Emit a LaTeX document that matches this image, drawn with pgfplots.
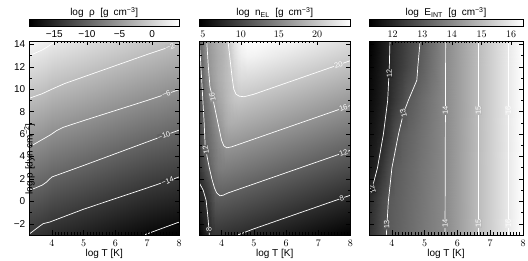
\documentclass[border=0pt]{standalone}
\usepackage{fontspec}
\setmainfont{Liberation Sans}
\usepackage{pgfplots}
\pgfplotsset{compat=1.18}
\tikzset{lbl/.style={text=white, font=\fontsize{7.5}{8}\selectfont, inner sep=0.5pt}}
\begin{document}
\begin{tikzpicture}[font=\fontsize{10}{12}\selectfont]
\path[use as bounding box] (0pt,0pt) rectangle (528pt,260pt);
\pgfplotsset{
  panel/.style={
    scale only axis, anchor=south west, height=194pt,
    xmin=3.3, xmax=8, ymin=-3, ymax=14.3,
    axis on top, tick align=inside,
    xtick={4,5,6,7,8}, minor x tick num=9,
    ytick={-2,0,2,4,6,8,10,12,14}, minor y tick num=1,
    yticklabels={−2,0,2,4,6,8,10,12,14},
    xtick pos=left, ytick pos=both, yticklabel pos=left,
    major tick length=4.5pt, minor tick length=2.5pt,
    every tick/.style={black, line width=0.5pt},
    axis line style={line width=0.6pt},
    tick label style={font=\fontsize{10}{12}\selectfont},
    xticklabel style={anchor=base, yshift=-11.5pt},
    yticklabel style={xshift=-0.8pt},
    xlabel={log T [K]},
    xlabel style={at={(axis description cs:0.5,0)}, anchor=base, yshift=-21pt, font=\fontsize{10}{12}\selectfont},
    colormap/blackwhite,
  },
  cbax/.style={scale only axis, anchor=south west, height=7pt, ymin=0, ymax=1,
    ticks=none, axis line style={line width=0.5pt}, colormap/blackwhite, axis on top, clip=false},
  topax/.style={scale only axis, anchor=south west, height=194pt, ymin=0, ymax=1,
    axis x line*=top, axis y line=none, tick align=inside, minor x tick num=9,
    major tick length=4.5pt, minor tick length=2.5pt,
    every tick/.style={black, line width=0.5pt},
    axis line style={line width=0.6pt},
    tick label style={font=\fontsize{10}{12}\selectfont},
    xticklabel style={anchor=south, yshift=-0.5pt}},
  cont/.style={white, line width=0.7pt, no markers},
}
% ---------------- Colorbars ----------------
\begin{axis}[cbax, at={(29.5pt,234pt)}, width=149.5pt, xmin=-18.8, xmax=4.1,
  point meta min=-18.8, point meta max=4.1]
\addplot[surf, shader=interp, mesh/cols=2, point meta=explicit] coordinates {
(-18.8,0)[-18.8] (4.1,0)[4.1]
(-18.8,1)[-18.8] (4.1,1)[4.1]
};
\node[anchor=base, yshift=3pt] at (axis description cs:0.5,1) {log\hspace{0.55em}ρ\hspace{0.55em}[g\hspace{0.5em}cm\textsuperscript{−3}]};
\end{axis}
\begin{axis}[cbax, at={(199pt,234pt)}, width=151.5pt, xmin=4.5, xmax=24.4,
  point meta min=4.5, point meta max=24.4]
\addplot[surf, shader=interp, mesh/cols=2, point meta=explicit] coordinates {
(4.5,0)[4.5] (24.4,0)[24.4]
(4.5,1)[4.5] (24.4,1)[24.4]
};
\node[anchor=base, yshift=3pt] at (axis description cs:0.5,1) {log\hspace{0.55em}n\textsubscript{EL}\hspace{0.55em}[g\hspace{0.5em}cm\textsuperscript{−3}]};
\end{axis}
\begin{axis}[cbax, at={(369pt,234pt)}, width=154pt, xmin=11.2, xmax=16.4,
  point meta min=11.2, point meta max=16.4]
\addplot[surf, shader=interp, mesh/cols=2, point meta=explicit] coordinates {
(11.2,0)[11.2] (16.4,0)[16.4]
(11.2,1)[11.2] (16.4,1)[16.4]
};
\node[anchor=base, yshift=3pt] at (axis description cs:0.5,1) {log\hspace{0.55em}E\textsubscript{INT}\hspace{0.55em}[g\hspace{0.5em}cm\textsuperscript{−3}]};
\end{axis}
% ---------------- Panel 1 : log rho ----------------
\begin{axis}[panel, at={(29.5pt,25pt)}, width=149.5pt,
  point meta min=-18.8, point meta max=4.1,
  ylabel={log p [dyn cm\textsuperscript{−2}]},
  ylabel style={at={(axis description cs:0,0.5)}, anchor=center, xshift=-21pt, font=\fontsize{10}{12}\selectfont}]
\addplot[surf, shader=interp, mesh/cols=9, point meta=explicit] coordinates {
(3.3,-3)[-14.04] (3.7,-3)[-14.5] (3.85,-3)[-14.75] (4.0,-3)[-15.1] (4.3,-3)[-15.35] (5,-3)[-16.06] (6,-3)[-17.07] (7,-3)[-18.08] (8,-3)[-19.1]
(3.3,14.3)[3.26] (3.7,14.3)[2.8] (3.85,14.3)[2.55] (4.0,14.3)[2.2] (4.3,14.3)[1.95] (5,14.3)[1.24] (6,14.3)[0.23] (7,14.3)[-0.78] (8,14.3)[-1.8]
};
\addplot[cont] coordinates {(3.3,13.0) (3.7,13.5) (3.85,13.75) (4.0,14.05) (4.15,14.3)};
\addplot[cont] coordinates {(3.3,9.2) (3.7,9.6) (4.0,10.0) (4.4,10.5) (5,11.1) (6,12.1) (7,13.1) (8,14.05)};
\addplot[cont] coordinates {(3.3,4.86) (3.94,5.9) (4.15,6.3) (4.36,6.6) (5,7.2) (6,8.1) (7,9.0) (8,9.95)};
\addplot[cont] coordinates {(3.3,0.98) (3.7,1.45) (3.84,1.73) (4.0,2.17) (5,3.2) (6,4.25) (7,5.3) (8,6.35)};
\addplot[cont] coordinates {(3.3,-2.9) (3.6,-2.25) (3.73,-1.99) (3.94,-1.84) (5,-0.7) (6,0.25) (7,1.2) (8,2.17)};
\addplot[cont] coordinates {(6.9,-3) (8,-1.85)};
\node[lbl, fill=white!73!black, rotate=19] at (7.72,13.78) {−2};
\node[lbl, fill=white!56!black, rotate=19] at (7.6,9.57) {−6};
\node[lbl, fill=white!38!black, rotate=19] at (7.53,5.86) {−10};
\node[lbl, fill=white!21!black, rotate=19] at (7.64,1.82) {−14};
\end{axis}
\begin{axis}[topax, at={(29.5pt,25pt)}, width=149.5pt, xmin=-18.8, xmax=4.1,
  xtick={-15,-10,-5,0}, xticklabels={−15,−10,−5,0}]
\end{axis}
% ---------------- Panel 2 : log n_EL ----------------
\begin{axis}[panel, at={(199pt,25pt)}, width=151.5pt, yticklabels={},
  point meta min=4.5, point meta max=24.4]
\addplot[surf, shader=interp, mesh/cols=19, point meta=explicit] coordinates {
(3.3,-3)[4.6] (3.4,-3)[5.7] (3.5,-3)[6.8] (3.6,-3)[7.8] (3.7,-3)[8.5] (3.8,-3)[8.6] (3.9,-3)[8.55] (4.0,-3)[8.45] (4.1,-3)[8.35] (4.2,-3)[8.25] (4.3,-3)[8.15] (4.4,-3)[8.05] (4.5,-3)[7.95] (4.6,-3)[7.85] (4.8,-3)[7.65] (5,-3)[7.45] (6,-3)[6.45] (7,-3)[5.45] (8,-3)[4.45]
(3.3,-1)[6.4] (3.4,-1)[7.1] (3.5,-1)[7.6] (3.6,-1)[8.5] (3.7,-1)[9.6] (3.8,-1)[10.4] (3.9,-1)[10.5] (4.0,-1)[10.4] (4.1,-1)[10.33] (4.2,-1)[10.25] (4.3,-1)[10.15] (4.4,-1)[10.05] (4.5,-1)[9.95] (4.6,-1)[9.85] (4.8,-1)[9.65] (5,-1)[9.45] (6,-1)[8.45] (7,-1)[7.45] (8,-1)[6.45]
(3.3,1)[7.5] (3.4,1)[7.85] (3.5,1)[8.7] (3.6,1)[9.8] (3.7,1)[11.0] (3.8,1)[12.2] (3.9,1)[12.4] (4.0,1)[12.4] (4.1,1)[12.33] (4.2,1)[12.25] (4.3,1)[12.15] (4.4,1)[12.05] (4.5,1)[11.95] (4.6,1)[11.85] (4.8,1)[11.65] (5,1)[11.45] (6,1)[10.45] (7,1)[9.45] (8,1)[8.45]
(3.3,3)[8.6] (3.4,3)[9.6] (3.5,3)[10.6] (3.6,3)[11.8] (3.7,3)[12.9] (3.8,3)[13.7] (3.9,3)[14.2] (4.0,3)[14.35] (4.1,3)[14.3] (4.2,3)[14.25] (4.3,3)[14.15] (4.4,3)[14.05] (4.5,3)[13.95] (4.6,3)[13.85] (4.8,3)[13.65] (5,3)[13.45] (6,3)[12.45] (7,3)[11.45] (8,3)[10.45]
(3.3,5)[9.2] (3.4,5)[10.6] (3.5,5)[12.1] (3.6,5)[12.9] (3.7,5)[13.6] (3.8,5)[14.3] (3.9,5)[15.0] (4.0,5)[15.6] (4.1,5)[16.15] (4.2,5)[16.2] (4.3,5)[16.12] (4.4,5)[16.05] (4.5,5)[15.95] (4.6,5)[15.85] (4.8,5)[15.65] (5,5)[15.45] (6,5)[14.45] (7,5)[13.45] (8,5)[12.45]
(3.3,7)[9.9] (3.4,7)[11.4] (3.5,7)[12.4] (3.6,7)[13.4] (3.7,7)[14.3] (3.8,7)[15.2] (3.9,7)[16.1] (4.0,7)[16.9] (4.1,7)[17.6] (4.2,7)[18.0] (4.3,7)[18.1] (4.4,7)[18.05] (4.5,7)[17.95] (4.6,7)[17.85] (4.8,7)[17.65] (5,7)[17.45] (6,7)[16.45] (7,7)[15.45] (8,7)[14.45]
(3.3,9)[10.6] (3.4,9)[11.7] (3.5,9)[13.1] (3.6,9)[14.3] (3.7,9)[15.5] (3.8,9)[16.5] (3.9,9)[17.3] (4.0,9)[17.9] (4.1,9)[18.5] (4.2,9)[19.0] (4.3,9)[19.4] (4.4,9)[19.75] (4.5,9)[19.9] (4.6,9)[19.85] (4.8,9)[19.65] (5,9)[19.45] (6,9)[18.45] (7,9)[17.45] (8,9)[16.45]
(3.3,11)[11.2] (3.4,11)[12.3] (3.5,11)[14.0] (3.6,11)[15.8] (3.7,11)[16.7] (3.8,11)[17.3] (3.9,11)[17.9] (4.0,11)[18.4] (4.1,11)[18.9] (4.2,11)[19.3] (4.3,11)[19.8] (4.4,11)[20.7] (4.5,11)[21.4] (4.6,11)[21.6] (4.8,11)[21.55] (5,11)[21.4] (6,11)[20.45] (7,11)[19.45] (8,11)[18.45]
(3.3,13)[11.7] (3.4,13)[13.2] (3.5,13)[14.9] (3.6,13)[16.3] (3.7,13)[16.9] (3.8,13)[17.4] (3.9,13)[17.9] (4.0,13)[18.4] (4.1,13)[18.9] (4.2,13)[19.6] (4.3,13)[20.6] (4.4,13)[21.7] (4.5,13)[22.6] (4.6,13)[23.1] (4.8,13)[23.5] (5,13)[23.4] (6,13)[22.45] (7,13)[21.45] (8,13)[20.45]
(3.3,14.3)[11.9] (3.4,14.3)[13.6] (3.5,14.3)[15.4] (3.6,14.3)[16.6] (3.7,14.3)[17.2] (3.8,14.3)[17.7] (3.9,14.3)[18.2] (4.0,14.3)[18.7] (4.1,14.3)[19.3] (4.2,14.3)[20.0] (4.3,14.3)[21.2] (4.4,14.3)[22.3] (4.5,14.3)[23.2] (4.6,14.3)[23.8] (4.8,14.3)[24.3] (5,14.3)[24.4] (6,14.3)[23.75] (7,14.3)[22.75] (8,14.3)[21.75]
};
\addplot[cont] coordinates {(4.2,14.3) (4.27,12.5) (4.33,11) (4.38,10.0) (4.45,9.55) (4.55,9.38) (4.7,9.33) (5,9.55) (6,10.55) (7,11.55) (8,12.55)};
\addplot[cont] coordinates {(3.54,14.3) (3.59,12) (3.64,10.2) (3.72,9.3) (3.85,7.5) (4.0,5.45) (4.07,4.95) (4.16,4.78) (4.3,4.85) (5,5.55) (6,6.55) (7,7.55) (8,8.55)};
\addplot[cont] coordinates {(3.31,14.3) (3.35,12.5) (3.38,11.0) (3.42,9) (3.46,7) (3.49,5.0) (3.55,4.0) (3.62,3.0) (3.7,2.0) (3.78,1.2) (3.85,0.75) (3.95,0.5) (4.05,0.55) (4.2,0.75) (5,1.55) (6,2.55) (7,3.55) (8,4.55)};
\addplot[cont] coordinates {(3.3,1.7) (3.43,1.0) (3.52,0.1) (3.57,-1.2) (3.6,-2.2) (3.62,-3)};
\addplot[cont] coordinates {(4.5,-3) (5,-2.45) (6,-1.45) (7,-0.45) (8,0.55)};
\node[lbl, fill=white!78!black, rotate=19] at (7.63,12.18) {20};
\node[lbl, fill=white!58!black, rotate=19] at (7.78,8.33) {16};
\node[lbl, fill=white!38!black, rotate=19] at (7.78,4.33) {12};
\node[lbl, fill=white!18!black, rotate=19] at (7.73,0.28) {8};
\node[lbl, fill=white!58!black, rotate=103] at (3.72,9.3) {16};
\node[lbl, fill=white!38!black, rotate=100] at (3.51,4.6) {12};
\node[lbl, fill=white!18!black, rotate=92] at (3.61,-2.55) {8};
\end{axis}
\begin{axis}[topax, at={(199pt,25pt)}, width=151.5pt, xmin=4.5, xmax=24.4,
  xtick={5,10,15,20}]
\end{axis}
% ---------------- Panel 3 : log E_INT ----------------
\begin{axis}[panel, at={(369pt,25pt)}, width=154pt, yticklabels={},
  point meta min=11.2, point meta max=16.4]
\addplot[surf, shader=interp, mesh/cols=14, point meta=explicit] coordinates {
(3.3,-3)[12.2] (3.5,-3)[12.5] (3.7,-3)[12.8] (3.9,-3)[13.04] (4.1,-3)[13.15] (4.3,-3)[13.26] (4.5,-3)[13.37] (4.7,-3)[13.49] (4.9,-3)[13.6] (5.2,-3)[13.77] (5.6,-3)[13.99] (6,-3)[14.38] (7,-3)[15.4] (8,-3)[16.4]
(3.3,0)[12.05] (3.5,0)[12.37] (3.7,0)[12.69] (3.9,0)[13.01] (4.1,0)[13.12] (4.3,0)[13.24] (4.5,0)[13.35] (4.7,0)[13.47] (4.9,0)[13.58] (5.2,0)[13.76] (5.6,0)[13.99] (6,0)[14.38] (7,0)[15.4] (8,0)[16.4]
(3.3,3)[11.7] (3.5,3)[11.93] (3.7,3)[12.32] (3.9,3)[12.77] (4.1,3)[13.06] (4.3,3)[13.19] (4.5,3)[13.31] (4.7,3)[13.43] (4.9,3)[13.56] (5.2,3)[13.74] (5.6,3)[13.99] (6,3)[14.38] (7,3)[15.4] (8,3)[16.4]
(3.3,6)[11.55] (3.5,6)[11.75] (3.7,6)[11.96] (3.9,6)[12.35] (4.1,6)[12.78] (4.3,6)[13.07] (4.5,6)[13.21] (4.7,6)[13.35] (4.9,6)[13.49] (5.2,6)[13.70] (5.6,6)[13.99] (6,6)[14.38] (7,6)[15.4] (8,6)[16.4]
(3.3,9)[11.4] (3.5,9)[11.61] (3.7,9)[11.82] (3.9,9)[12.05] (4.1,9)[12.37] (4.3,9)[12.68] (4.5,9)[13.0] (4.7,9)[13.18] (4.9,9)[13.36] (5.2,9)[13.63] (5.6,9)[13.98] (6,9)[14.38] (7,9)[15.4] (8,9)[16.4]
(3.3,12)[11.3] (3.5,12)[11.53] (3.7,12)[11.75] (3.9,12)[11.98] (4.1,12)[12.21] (4.3,12)[12.44] (4.5,12)[12.67] (4.7,12)[12.9] (4.9,12)[13.13] (5.2,12)[13.49] (5.6,12)[13.98] (6,12)[14.38] (7,12)[15.4] (8,12)[16.4]
(3.3,14.3)[11.2] (3.5,14.3)[11.45] (3.7,14.3)[11.7] (3.9,14.3)[11.95] (4.1,14.3)[12.17] (4.3,14.3)[12.39] (4.5,14.3)[12.61] (4.7,14.3)[12.83] (4.9,14.3)[13.05] (5.2,14.3)[13.45] (5.6,14.3)[13.97] (6,14.3)[14.38] (7,14.3)[15.4] (8,14.3)[16.4]
};
\addplot[cont] coordinates {(3.94,14.3) (3.92,12) (3.87,9) (3.74,6) (3.56,3) (3.38,1) (3.3,0.6)};
\addplot[cont] coordinates {(4.86,14.3) (4.79,12) (4.76,10.8) (4.5,9) (4.35,7.84) (4.2,6) (4.0,3) (3.89,0) (3.83,-3)};
\addplot[cont] coordinates {(5.64,14.3) (5.62,-3)};
\addplot[cont] coordinates {(6.64,14.3) (6.64,-3)};
\addplot[cont] coordinates {(7.55,14.3) (7.55,-3)};
\node[lbl, fill=white!15!black, rotate=93] at (3.92,11.4) {12};
\node[lbl, fill=white!15!black, rotate=108] at (3.4,1.1) {12};
\node[lbl, fill=white!35!black, rotate=106] at (4.35,7.84) {13};
\node[lbl, fill=white!35!black, rotate=93] at (3.84,-2.1) {13};
\node[lbl, fill=white!54!black, rotate=90] at (5.625,8.1) {14};
\node[lbl, fill=white!54!black, rotate=90] at (5.62,-2.0) {14};
\node[lbl, fill=white!73!black, rotate=90] at (6.64,8.1) {15};
\node[lbl, fill=white!73!black, rotate=90] at (6.64,-2.0) {15};
\node[lbl, fill=white!92!black, rotate=90] at (7.55,8.1) {16};
\node[lbl, fill=white!92!black, rotate=90] at (7.55,-2.0) {16};
\end{axis}
\begin{axis}[topax, at={(369pt,25pt)}, width=154pt, xmin=11.2, xmax=16.4,
  xtick={12,13,14,15,16}]
\end{axis}
\end{tikzpicture}
\end{document}
